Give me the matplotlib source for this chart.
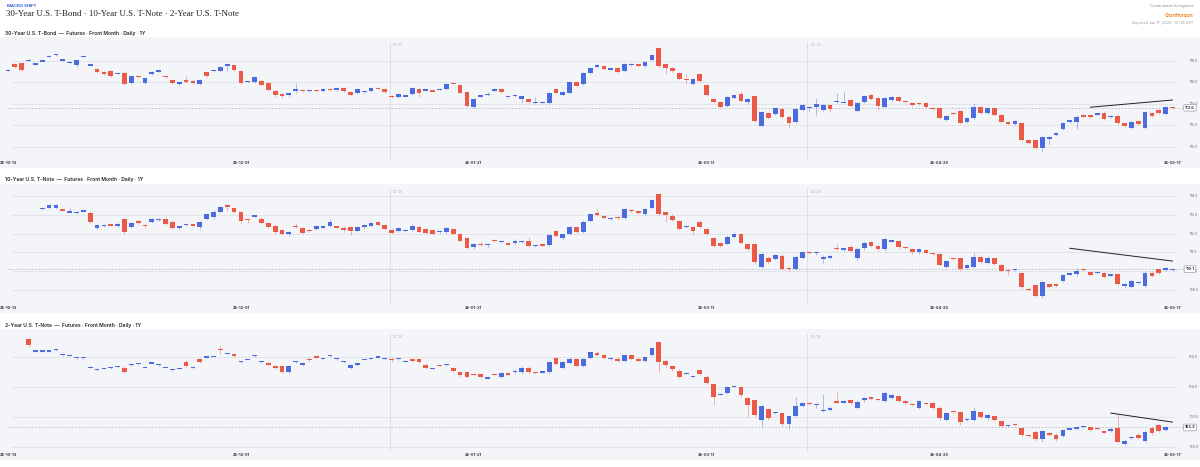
import matplotlib.pyplot as plt
import numpy as np
import pandas as pd

plt.rcParams['font.family'] = ['Inter', 'DejaVu Sans']

# trading calendar: weekdays minus exchange holidays
holidays = ['2025-11-27', '2025-12-25', '2026-01-01', '2026-01-19',
            '2026-02-16', '2026-04-03', '2026-05-25']
dates = pd.bdate_range('2025-10-13', '2026-06-17')
dates = dates[~dates.isin(pd.to_datetime(holidays))]

date_ticks = ['25-10-13', '25-12-01', '26-01-21', '26-03-11', '26-04-29', '26-06-17']
quarter_starts = ['2026-01-02', '2026-04-01']
quarter_labels = ["Q1 '26", "Q2 '26"]

N = None

# ---- 30-Year U.S. T-Bond ----
bond_open = [
    117.08, 117.69, 117.76, 118.01, 117.67, 117.95, 118.38, 118.54, 118.05, 117.80,
    117.57, 118.38, 117.58, 117.20, 116.98, 117.01, 116.81, 116.83, 115.90, 116.52,
    115.95, 116.76, 117.02, 116.52, 116.20, 115.83, 116.20, 116.10, 115.80, 116.92,
    117.05, 117.07, 117.58, 117.60, 117.04, 116.03, 116.05, 116.10, 115.95, 115.20,
    114.90, 114.88, 115.18, 115.30, 115.15, 115.22, 115.20, 115.35, 115.30, 115.45,
    115.12, 115.03, 115.10, 115.21, 115.45, 115.34, 114.67, 114.59, 114.70, 114.90,
    115.34, 115.25, 115.20, 115.32, 115.37, 115.92, 115.74, 115.12, 113.72, 114.70,
    114.85, 115.21, 115.34, 114.63, 114.73, 114.47, 114.41, 114.08, 114.08, 114.03,
    115.40, 114.81, 115.03, 115.99, 115.80, 116.83, 117.41, 117.51, 117.21, 117.29,
    117.04, 117.64, 117.70, 117.51, 118.07, 119.15, 117.66, 117.29, 116.83, 116.29,
    115.83, 116.73, 115.74, 114.41, 114.19, 113.79, 114.50, 114.87, 114.19, 114.72,
    111.96, 113.10, 113.04, 113.51, 112.80, 112.33, 113.41, 113.64, 113.66, 113.40,
    113.88, 114.17, 114.12, 114.30, 113.32, 114.19, 114.81, 114.50, 113.66, 114.35,
    114.66, 114.22, 114.10, 114.06, 114.03, 113.60, 113.57, 112.48, 113.12, 113.32,
    112.33, 112.64, 113.66, 113.10, 113.57, 112.95, 112.33, 112.11, 112.17, 110.62,
    110.62, 109.85, 110.69, 111.09, 111.62, 112.27, 112.33, 112.95, 112.95, 113.02,
    113.10, 112.78, 112.86, 112.17, 111.71, 112.39, 111.71, 113.17, 113.42, 113.04, 113.66]
bond_high = [
    117.20, 117.80, 117.85, 118.12, 117.78, 118.05, 118.50, 118.65, 118.15, 117.98,
    118.15, 118.48, 117.70, 117.30, 117.08, 117.10, 116.92, 116.93, 116.70, 116.60,
    116.45, 117.05, 117.15, 116.60, 116.30, 116.15, 116.58, 116.20, 116.30, 117.02,
    117.16, 117.49, 117.70, 117.70, 117.14, 116.15, 116.56, 116.20, 116.05, 115.30,
    115.00, 115.00, 115.90, 115.40, 115.35, 115.32, 115.45, 115.45, 115.55, 115.55,
    115.22, 115.44, 115.20, 115.59, 115.55, 115.44, 114.77, 114.97, 114.83, 115.53,
    115.44, 115.38, 115.28, 115.45, 115.93, 116.02, 115.84, 115.22, 114.57, 114.83,
    115.12, 115.44, 115.44, 114.76, 114.86, 114.79, 114.51, 114.60, 114.21, 115.07,
    115.50, 115.22, 116.09, 116.09, 116.93, 117.45, 117.70, 117.61, 117.34, 117.39,
    117.76, 117.77, 117.80, 118.01, 118.63, 119.25, 117.76, 117.39, 116.93, 116.80,
    116.37, 116.83, 115.84, 114.51, 114.29, 114.75, 114.91, 115.15, 114.51, 114.82,
    113.30, 113.20, 113.67, 113.61, 112.90, 113.61, 113.98, 113.77, 114.50, 114.00,
    113.98, 115.00, 115.12, 114.40, 114.20, 114.82, 114.91, 114.60, 114.66, 114.76,
    114.76, 114.32, 114.20, 114.16, 114.13, 113.70, 113.67, 112.96, 113.22, 113.42,
    112.80, 114.10, 113.76, 113.67, 113.67, 113.05, 112.43, 112.52, 112.27, 110.72,
    110.72, 110.97, 111.03, 111.34, 112.34, 112.58, 112.90, 113.05, 113.05, 113.15,
    113.30, 112.91, 112.96, 112.27, 112.43, 112.49, 113.36, 113.27, 113.52, 113.83, 113.76]
bond_low = [
    117.00, 117.35, 117.05, 117.95, 117.60, 117.90, 118.30, 118.48, 117.98, 117.70,
    117.45, 118.30, 117.50, 116.82, 116.66, 116.50, 116.72, 115.76, 115.80, 116.40,
    115.85, 116.66, 116.95, 116.38, 115.80, 115.73, 115.95, 115.80, 115.70, 116.48,
    116.97, 116.97, 116.92, 117.06, 115.85, 115.95, 115.95, 115.64, 115.17, 114.60,
    114.55, 114.65, 114.97, 115.05, 115.05, 115.10, 115.10, 115.20, 115.20, 115.10,
    114.71, 114.93, 115.00, 115.11, 115.35, 115.02, 114.55, 114.49, 114.60, 114.80,
    114.60, 115.18, 115.07, 115.25, 115.27, 115.80, 114.86, 113.69, 113.62, 114.60,
    114.75, 115.11, 114.99, 114.55, 114.65, 114.05, 114.09, 114.00, 113.98, 113.93,
    114.93, 114.71, 114.93, 115.55, 115.70, 116.73, 117.31, 117.10, 117.11, 116.88,
    116.94, 117.54, 117.41, 117.41, 117.97, 117.41, 116.80, 116.97, 116.17, 115.85,
    115.73, 116.04, 114.71, 114.09, 113.62, 113.69, 114.40, 114.18, 114.00, 112.32,
    111.80, 112.54, 112.94, 112.63, 111.75, 112.23, 113.31, 113.20, 112.90, 113.30,
    113.20, 114.07, 114.02, 113.72, 113.22, 114.09, 114.31, 113.40, 113.56, 114.25,
    114.18, 114.06, 113.78, 113.90, 113.62, 113.44, 112.60, 112.38, 112.96, 112.07,
    112.23, 112.54, 113.07, 113.00, 112.85, 112.23, 112.01, 112.01, 110.52, 110.28,
    109.75, 109.54, 110.20, 110.99, 111.52, 112.17, 111.65, 112.63, 112.63, 112.92,
    112.48, 112.70, 112.14, 111.86, 111.61, 112.01, 111.61, 112.76, 113.00, 112.94, 113.52]
bond_close = [
    117.12, 117.44, 117.13, 118.05, 117.70, 117.98, 118.41, 118.58, 118.08, 117.88,
    118.07, 118.42, 117.61, 116.92, 116.76, 116.60, 116.84, 115.86, 116.60, 116.48,
    116.36, 116.95, 117.05, 116.48, 115.90, 116.05, 116.05, 115.90, 116.20, 116.58,
    117.08, 117.39, 117.61, 117.16, 115.95, 116.06, 116.46, 115.74, 115.27, 114.78,
    114.70, 114.91, 115.34, 115.15, 115.25, 115.19, 115.35, 115.30, 115.45, 115.20,
    114.81, 115.34, 115.13, 115.49, 115.42, 115.12, 114.64, 114.87, 114.73, 115.43,
    114.96, 115.28, 115.17, 115.35, 115.83, 115.89, 114.96, 113.79, 114.47, 114.73,
    114.88, 115.34, 115.09, 114.66, 114.76, 114.69, 114.19, 114.11, 114.11, 114.97,
    115.03, 115.12, 115.99, 115.65, 116.83, 117.35, 117.60, 117.20, 117.24, 116.98,
    117.66, 117.67, 117.51, 117.91, 118.53, 117.51, 117.29, 117.07, 116.27, 116.26,
    116.27, 116.14, 114.81, 114.19, 113.72, 114.65, 114.81, 114.28, 114.41, 112.42,
    113.20, 112.64, 113.57, 112.73, 112.17, 113.51, 113.88, 113.67, 113.97, 113.90,
    113.48, 114.20, 114.15, 113.82, 114.10, 114.72, 114.41, 113.79, 114.56, 114.66,
    114.28, 114.16, 113.88, 114.00, 113.72, 113.54, 112.70, 112.86, 113.06, 112.17,
    112.70, 113.66, 113.17, 113.57, 112.95, 112.33, 112.11, 112.42, 110.62, 110.38,
    109.85, 110.87, 110.93, 111.24, 112.24, 112.48, 112.80, 112.73, 112.73, 113.05,
    112.58, 112.81, 112.24, 111.96, 112.33, 112.11, 113.26, 112.86, 113.10, 113.73, 113.62]

# ---- 10-Year U.S. T-Note ----
note_open = [
    N, N, N, N, N, 113.32, 113.36, 113.36, 113.27, 113.14,
    113.12, 113.19, 113.11, 112.28, 112.41, 112.47, 112.42, 112.78, 112.37, 112.67,
    112.45, 112.63, 112.75, 112.78, 112.63, 112.28, 112.48, 112.47, 112.33, 112.78,
    112.87, 113.13, 113.50, 113.36, 113.15, 112.77, 112.93, 112.79, 112.55, 112.42,
    112.17, 111.99, 112.38, 112.30, 112.18, 112.25, 112.34, 112.42, 112.36, 112.31,
    112.33, 112.16, 112.33, 112.40, 112.62, 112.47, 112.21, 112.14, 112.15, 112.21,
    112.33, 112.23, 112.17, 112.09, 112.07, 112.24, 111.99, 111.75, 111.27, 111.47,
    111.42, 111.63, 111.56, 111.50, 111.48, 111.56, 111.59, 111.35, 111.40, 111.39,
    112.14, 111.78, 111.96, 112.33, 112.10, 112.69, 113.08, 112.94, 112.80, 112.86,
    112.81, 113.23, 113.22, 113.02, 113.38, 114.11, 113.13, 112.95, 112.67, 112.36,
    112.33, 112.64, 112.23, 111.75, 111.48, 111.45, 111.84, 111.96, 111.43, 111.43,
    110.24, 110.72, 110.65, 110.83, 110.16, 110.12, 110.72, 111.00, 110.97, 110.65,
    110.72, 111.21, 111.17, 111.31, 110.68, 111.22, 111.55, 111.34, 111.16, 111.60,
    111.61, 111.26, 111.16, 111.00, 111.13, 110.96, 110.90, 110.24, 110.68, 110.70,
    110.19, 110.24, 110.77, 110.45, 110.68, 110.31, 110.04, 110.09, 109.89, 109.07,
    109.27, 108.70, 109.30, 109.32, 109.50, 109.84, 109.83, 110.11, 109.94, 109.91,
    109.89, 109.79, 109.85, 109.26, 109.18, 109.38, 109.21, 109.92, 110.10, 110.06, 110.09]
note_high = [
    N, N, N, N, N, 113.42, 113.56, 113.56, 113.33, 113.34,
    113.20, 113.27, 113.18, 112.52, 112.50, 112.53, 112.60, 112.85, 112.62, 112.74,
    112.50, 112.85, 112.84, 112.86, 112.70, 112.47, 112.57, 112.53, 112.68, 113.10,
    113.23, 113.48, 113.56, 113.42, 113.20, 112.83, 113.00, 112.86, 112.60, 112.48,
    112.23, 112.16, 112.55, 112.37, 112.24, 112.45, 112.42, 112.80, 112.42, 112.38,
    112.40, 112.43, 112.52, 112.65, 112.69, 112.53, 112.28, 112.35, 112.23, 112.49,
    112.45, 112.30, 112.23, 112.17, 112.37, 112.30, 112.05, 111.82, 111.51, 111.54,
    111.50, 111.69, 111.64, 111.56, 111.69, 111.64, 111.80, 111.42, 111.46, 111.98,
    112.20, 112.05, 112.40, 112.40, 112.70, 113.08, 113.30, 113.00, 112.88, 112.92,
    113.35, 113.30, 113.28, 113.38, 113.83, 114.17, 113.20, 113.02, 112.73, 112.45,
    112.40, 112.72, 112.30, 111.82, 111.55, 111.90, 112.06, 112.03, 111.50, 111.50,
    110.97, 110.80, 110.93, 110.90, 110.22, 110.84, 111.07, 111.10, 111.05, 110.85,
    110.90, 111.45, 111.26, 111.38, 111.27, 111.58, 111.62, 111.40, 111.76, 111.68,
    111.68, 111.32, 111.22, 111.22, 111.20, 111.02, 110.96, 110.62, 110.74, 110.77,
    110.40, 110.95, 110.84, 110.80, 110.75, 110.38, 110.10, 110.18, 109.96, 109.14,
    109.34, 109.48, 109.37, 109.39, 109.87, 109.93, 110.15, 110.17, 110.01, 109.99,
    109.96, 109.87, 109.92, 109.35, 109.57, 109.46, 109.99, 109.99, 110.17, 110.21, 110.17]
note_low = [
    N, N, N, N, N, 113.26, 113.30, 113.30, 113.18, 113.08,
    113.06, 113.13, 112.56, 112.22, 112.35, 112.39, 112.36, 112.00, 112.30, 112.50,
    112.30, 112.57, 112.69, 112.47, 112.22, 112.22, 112.42, 112.38, 112.25, 112.72,
    112.80, 113.07, 113.20, 113.08, 112.58, 112.55, 112.87, 112.49, 112.30, 111.98,
    111.92, 111.85, 112.30, 111.98, 112.10, 112.18, 112.28, 112.36, 112.28, 112.10,
    111.95, 112.10, 112.27, 112.34, 112.40, 112.18, 111.98, 112.08, 112.08, 112.15,
    112.02, 111.98, 111.92, 112.02, 112.00, 111.92, 111.53, 111.18, 111.20, 111.33,
    111.30, 111.55, 111.50, 111.32, 111.41, 111.50, 111.30, 111.29, 111.30, 111.33,
    111.80, 111.65, 111.90, 112.03, 112.03, 112.62, 112.93, 112.75, 112.74, 112.70,
    112.75, 113.15, 113.04, 112.96, 113.32, 112.96, 112.60, 112.66, 112.18, 112.30,
    111.95, 112.30, 111.90, 111.30, 111.28, 111.38, 111.78, 111.45, 111.10, 110.40,
    110.15, 110.40, 110.58, 110.05, 109.95, 110.05, 110.65, 110.90, 110.85, 110.45,
    110.65, 111.12, 111.10, 111.00, 110.60, 111.15, 111.28, 111.10, 111.10, 111.54,
    111.20, 111.18, 110.93, 110.94, 110.92, 110.88, 110.27, 110.18, 110.60, 110.03,
    110.12, 110.18, 110.40, 110.38, 110.31, 109.96, 109.80, 110.02, 109.07, 108.93,
    108.63, 108.55, 109.10, 109.14, 109.43, 109.78, 109.76, 110.03, 109.73, 109.85,
    109.64, 109.73, 109.25, 109.10, 109.11, 109.32, 109.14, 109.67, 109.85, 109.99, 110.03]
note_close = [
    N, N, N, N, N, 113.35, 113.50, 113.50, 113.24, 113.16,
    113.14, 113.21, 112.63, 112.46, 112.43, 112.45, 112.53, 112.07, 112.55, 112.56,
    112.43, 112.78, 112.77, 112.53, 112.28, 112.40, 112.50, 112.45, 112.62, 113.04,
    113.17, 113.42, 113.40, 113.15, 112.65, 112.75, 112.95, 112.55, 112.37, 112.10,
    111.98, 112.10, 112.36, 112.05, 112.16, 112.39, 112.36, 112.62, 112.34, 112.17,
    112.16, 112.37, 112.46, 112.58, 112.47, 112.24, 112.05, 112.28, 112.17, 112.42,
    112.09, 112.05, 111.98, 112.11, 112.30, 111.99, 111.60, 111.25, 111.45, 111.39,
    111.44, 111.61, 111.58, 111.39, 111.62, 111.58, 111.36, 111.37, 111.38, 111.91,
    111.87, 111.99, 112.33, 112.10, 112.63, 113.02, 112.99, 112.81, 112.82, 112.84,
    113.29, 113.21, 113.10, 113.31, 113.77, 113.02, 112.99, 112.72, 112.25, 112.38,
    112.16, 112.37, 111.96, 111.36, 111.34, 111.84, 111.99, 111.52, 111.18, 110.47,
    110.90, 110.47, 110.86, 110.12, 110.14, 110.77, 111.00, 110.98, 110.99, 110.77,
    110.82, 111.19, 111.19, 111.08, 111.20, 111.52, 111.34, 111.16, 111.70, 111.62,
    111.27, 111.24, 111.00, 111.16, 110.99, 110.94, 110.33, 110.56, 110.66, 110.10,
    110.33, 110.77, 110.47, 110.72, 110.38, 110.03, 110.02, 110.11, 109.14, 109.00,
    108.70, 109.41, 109.18, 109.21, 109.80, 109.86, 110.03, 110.09, 109.80, 109.93,
    109.71, 109.81, 109.32, 109.28, 109.50, 109.40, 109.92, 109.74, 109.92, 110.15, 110.11]

# ---- 2-Year U.S. T-Note ----
two_open = [
    N, N, N, 104.79, 104.59, 104.59, 104.59, 104.61, 104.53, 104.52,
    104.48, 104.48, 104.32, 104.28, 104.30, 104.31, 104.33, 104.32, 104.36, 104.38,
    104.32, 104.39, 104.36, 104.32, 104.28, 104.30, 104.42, 104.31, 104.46, 104.49,
    104.50, 104.63, 104.55, 104.55, 104.41, 104.45, 104.51, 104.41, 104.39, 104.34,
    104.35, 104.25, 104.41, 104.37, 104.47, 104.50, 104.47, 104.51, 104.46, 104.41,
    104.32, 104.37, 104.45, 104.47, 104.49, 104.46, 104.47, 104.46, 104.42, 104.46,
    104.46, 104.37, 104.30, 104.36, 104.36, 104.31, 104.25, 104.25, 104.21, 104.21,
    104.14, 104.21, 104.17, 104.23, 104.24, 104.24, 104.32, 104.24, 104.24, 104.24,
    104.48, 104.32, 104.40, 104.46, 104.35, 104.48, 104.57, 104.53, 104.46, 104.47,
    104.43, 104.53, 104.47, 104.43, 104.53, 104.74, 104.43, 104.35, 104.27, 104.22,
    104.16, 104.28, 104.17, 104.04, 103.87, 103.90, 104.00, 103.99, 103.81, 103.77,
    103.44, 103.62, 103.56, 103.56, 103.38, 103.51, 103.68, 103.73, 103.70, 103.60,
    103.61, 103.75, 103.74, 103.78, 103.64, 103.77, 103.82, 103.79, 103.76, 103.81,
    103.84, 103.76, 103.71, 103.65, 103.73, 103.72, 103.65, 103.45, 103.59, 103.58,
    103.45, 103.45, 103.58, 103.47, 103.51, 103.43, 103.35, 103.37, 103.31, 103.19,
    103.25, 103.12, 103.22, 103.20, 103.18, 103.29, 103.30, 103.33, 103.32, 103.31,
    103.25, 103.26, 103.31, 103.05, 103.15, 103.20, 103.10, 103.31, 103.36, 103.28, N]
two_high = [
    N, N, N, 104.81, 104.61, 104.61, 104.61, 104.63, 104.55, 104.54,
    104.50, 104.50, 104.34, 104.30, 104.32, 104.33, 104.35, 104.34, 104.38, 104.40,
    104.34, 104.41, 104.38, 104.34, 104.30, 104.32, 104.44, 104.33, 104.48, 104.51,
    104.52, 104.70, 104.57, 104.57, 104.43, 104.47, 104.53, 104.43, 104.41, 104.36,
    104.37, 104.37, 104.43, 104.42, 104.49, 104.51, 104.49, 104.53, 104.48, 104.43,
    104.38, 104.42, 104.47, 104.49, 104.51, 104.48, 104.49, 104.48, 104.44, 104.48,
    104.48, 104.39, 104.32, 104.37, 104.38, 104.33, 104.27, 104.27, 104.22, 104.23,
    104.16, 104.22, 104.25, 104.25, 104.29, 104.34, 104.34, 104.25, 104.26, 104.43,
    104.50, 104.43, 104.49, 104.48, 104.48, 104.60, 104.59, 104.55, 104.48, 104.49,
    104.55, 104.55, 104.49, 104.52, 104.66, 104.76, 104.45, 104.37, 104.29, 104.24,
    104.18, 104.30, 104.19, 104.06, 103.89, 104.01, 104.02, 104.01, 103.83, 103.79,
    103.70, 103.64, 103.58, 103.58, 103.53, 103.82, 103.74, 103.75, 103.72, 103.88,
    103.67, 103.92, 103.77, 103.80, 103.77, 103.83, 103.84, 103.80, 103.93, 103.88,
    103.86, 103.78, 103.72, 103.78, 103.75, 103.74, 103.67, 103.58, 103.61, 103.60,
    103.48, 103.66, 103.60, 103.55, 103.53, 103.45, 103.37, 103.39, 103.33, 103.21,
    103.27, 103.28, 103.24, 103.22, 103.30, 103.31, 103.34, 103.36, 103.34, 103.33,
    103.27, 103.32, 103.56, 103.12, 103.18, 103.22, 103.26, 103.33, 103.38, 103.34, N]
two_low = [
    N, N, N, 104.67, 104.58, 104.58, 104.58, 104.60, 104.52, 104.51,
    104.47, 104.47, 104.31, 104.27, 104.29, 104.30, 104.32, 104.23, 104.35, 104.37,
    104.31, 104.38, 104.35, 104.31, 104.27, 104.29, 104.32, 104.30, 104.39, 104.48,
    104.49, 104.55, 104.54, 104.50, 104.40, 104.44, 104.50, 104.40, 104.34, 104.30,
    104.23, 104.23, 104.40, 104.35, 104.42, 104.48, 104.46, 104.50, 104.45, 104.40,
    104.30, 104.35, 104.44, 104.46, 104.48, 104.45, 104.42, 104.45, 104.41, 104.41,
    104.39, 104.29, 104.29, 104.34, 104.35, 104.25, 104.17, 104.15, 104.19, 104.14,
    104.13, 104.19, 104.15, 104.18, 104.22, 104.22, 104.22, 104.22, 104.23, 104.22,
    104.36, 104.30, 104.38, 104.33, 104.33, 104.46, 104.51, 104.46, 104.45, 104.41,
    104.41, 104.45, 104.41, 104.41, 104.51, 104.25, 104.33, 104.27, 104.15, 104.21,
    104.15, 104.19, 104.05, 103.70, 103.86, 103.88, 103.99, 103.82, 103.50, 103.50,
    103.32, 103.45, 103.55, 103.35, 103.30, 103.49, 103.66, 103.70, 103.65, 103.58,
    103.59, 103.72, 103.72, 103.70, 103.62, 103.75, 103.77, 103.76, 103.74, 103.79,
    103.74, 103.70, 103.68, 103.63, 103.70, 103.63, 103.44, 103.43, 103.56, 103.36,
    103.43, 103.43, 103.48, 103.45, 103.43, 103.33, 103.33, 103.34, 103.18, 103.16,
    103.10, 103.08, 103.18, 103.10, 103.16, 103.28, 103.28, 103.31, 103.26, 103.28,
    103.22, 103.24, 103.06, 103.03, 103.13, 103.12, 103.08, 103.20, 103.24, 103.26, N]
two_close = [
    N, N, N, 104.69, 104.60, 104.60, 104.60, 104.62, 104.54, 104.53,
    104.49, 104.49, 104.33, 104.29, 104.31, 104.32, 104.34, 104.25, 104.37, 104.39,
    104.33, 104.40, 104.37, 104.33, 104.29, 104.31, 104.34, 104.32, 104.41, 104.50,
    104.51, 104.62, 104.56, 104.52, 104.42, 104.46, 104.52, 104.42, 104.36, 104.32,
    104.25, 104.35, 104.42, 104.40, 104.44, 104.49, 104.48, 104.52, 104.47, 104.42,
    104.36, 104.40, 104.46, 104.48, 104.50, 104.47, 104.44, 104.47, 104.43, 104.43,
    104.41, 104.31, 104.31, 104.35, 104.37, 104.27, 104.19, 104.17, 104.20, 104.16,
    104.15, 104.20, 104.23, 104.20, 104.27, 104.32, 104.24, 104.23, 104.25, 104.41,
    104.38, 104.41, 104.47, 104.35, 104.46, 104.58, 104.53, 104.48, 104.47, 104.43,
    104.53, 104.47, 104.43, 104.50, 104.64, 104.41, 104.37, 104.29, 104.17, 104.23,
    104.17, 104.21, 104.07, 103.83, 103.88, 103.99, 104.01, 103.86, 103.70, 103.53,
    103.68, 103.47, 103.57, 103.37, 103.51, 103.67, 103.72, 103.72, 103.71, 103.61,
    103.65, 103.74, 103.75, 103.72, 103.75, 103.81, 103.79, 103.78, 103.90, 103.86,
    103.76, 103.72, 103.70, 103.76, 103.72, 103.65, 103.47, 103.56, 103.58, 103.41,
    103.46, 103.60, 103.50, 103.53, 103.45, 103.35, 103.36, 103.36, 103.20, 103.18,
    103.12, 103.26, 103.20, 103.12, 103.28, 103.30, 103.32, 103.34, 103.28, 103.30,
    103.24, 103.30, 103.08, 103.10, 103.16, 103.14, 103.24, 103.22, 103.26, 103.32, N]

# divergence trend lines (start date, end date, start value, end value)
bond_trend = ('2026-06-01', '2026-06-17', 113.67, 114.34)
note_trend = ('2026-05-27', '2026-06-17', 111.22, 110.54)
two_trend = ('2026-06-04', '2026-06-17', 103.56, 103.41)

bond_ticks = [110, 112, 114, 116, 118]
note_ticks = [109, 110, 111, 112, 113, 114]
two_ticks = [103.0, 103.5, 104.0, 104.5]

panels = [
    ('30-Year U.S. T-Bond', bond_open, bond_high, bond_low, bond_close,
     bond_ticks, (108.014, 120.205), bond_trend, 37, 168),
    ('10-Year U.S. T-Note', note_open, note_high, note_low, note_close,
     note_ticks, (107.777, 114.638), note_trend, 184, 313),
    ('2-Year U.S. T-Note', two_open, two_high, two_low, two_close,
     two_ticks, (102.778, 104.962), two_trend, 329, 460),
]

W, H = 1200, 467
UP = '#4a6cdf'
DOWN = '#ea5a47'
BG = '#f4f5f9'

fig = plt.figure(figsize=(W / 100, H / 100), dpi=100)
fig.patch.set_facecolor('white')


def fx(x):
    return x / W


def fy(y):
    return 1 - y / H


def idx_of(d):
    return int(dates.get_loc(pd.Timestamp(d)))


fig.text(fx(7), fy(6), 'MACRO SHIFT', fontsize=3.0, fontweight='bold',
         color='#2d5bd6', va='center')
fig.text(fx(6), fy(14.5), '30-Year U.S. T-Bond · 10-Year U.S. T-Note · 2-Year U.S. T-Note',
         fontsize=6.4, family=['Liberation Serif', 'DejaVu Serif'], color='#222222', va='center')
fig.text(fx(1193), fy(6), 'Cross-asset divergence', fontsize=2.8, color='#888888',
         ha='right', va='center')
fig.text(fx(1193), fy(15.3), 'ChartHorizon', fontsize=3.2, fontweight='bold',
         color='#f0892a', ha='right', va='center')
fig.text(fx(1193), fy(22.7), 'Exported Jan 17, 2026 · 07:38 GST', fontsize=2.7,
         color='#999999', ha='right', va='center')

x = np.arange(len(dates))
xlim = (-8 / 6.85, (W - 8) / 6.85)

for name, o, h, l, c, ticks, ylim, trend, top, bot in panels:
    o = np.array(o, dtype=float)
    h = np.array(h, dtype=float)
    l = np.array(l, dtype=float)
    c = np.array(c, dtype=float)

    ax = fig.add_axes([0, fy(bot), 1, (bot - top) / H])
    ax.set_facecolor(BG)
    for s in ax.spines.values():
        s.set_visible(False)
    ax.set_xticks([])
    ax.set_yticks([])
    ax.set_xlim(*xlim)
    ax.set_ylim(*ylim)

    fig.text(fx(5), fy(top - 4), f'{name}  —  Futures · Front Month · Daily · 1Y',
             fontsize=3.6, fontweight='semibold', color='#222222', va='center')

    px_per_unit = (bot - top) / (ylim[1] - ylim[0])

    # grid + y labels
    ax.hlines(ticks, 0.6, 170.7, colors='#e2e4ea', lw=0.7, zorder=1)
    for t in ticks:
        ax.text(1194 / W, t, f'{t:.1f}', transform=ax.get_yaxis_transform(),
                fontsize=2.6, color='#666666', ha='center', va='center', zorder=2)

    # quarter separators
    for qd, ql in zip(quarter_starts, quarter_labels):
        qi = idx_of(qd) - 0.3
        ax.axvline(qi, ymin=0.08, ymax=0.96, color='#dcdfe6', lw=0.7, zorder=1)
        ax.text(qi + 0.5, 0.94, ql, transform=ax.get_xaxis_transform(),
                fontsize=2.2, color='#aaaaaa', va='center', ha='left')

    # date labels
    for dl in date_ticks:
        di = idx_of('20' + dl)
        ax.text(di, 0.038, dl, transform=ax.get_xaxis_transform(), fontsize=2.8,
                fontweight='bold', color='#333333', ha='center', va='center')

    # candles
    ok = ~np.isnan(o)
    up = c >= o
    col = np.where(up, UP, DOWN)
    hi = np.fmax(h, np.fmax(o, c))
    lo = np.fmin(l, np.fmin(o, c))
    ax.vlines(x[ok], lo[ok], hi[ok], colors=col[ok], lw=0.55, alpha=0.55, zorder=3)
    body = np.maximum(np.abs(c - o), 1.3 / px_per_unit)
    base = np.where(np.abs(c - o) < 1.3 / px_per_unit,
                    (o + c) / 2 - body / 2, np.minimum(o, c))
    ax.bar(x[ok], body[ok], bottom=base[ok], width=0.7, color=col[ok],
           linewidth=0, zorder=4)

    # last price line and box
    last = c[ok][-1]
    ax.hlines(last, 0, 171.5, colors='#b7bbc5', lw=0.6, linestyles=(0, (2, 2)), zorder=2)
    ax.text(1190 / W, last, f'{last:.1f}', transform=ax.get_yaxis_transform(),
            fontsize=2.8, fontweight='bold', color='#222222', ha='center', va='center',
            zorder=6, bbox=dict(boxstyle='round,pad=0.35,rounding_size=0.3',
                                 fc='white', ec='#9aa0aa', lw=0.5))

    # divergence trend line
    t0, t1, v0, v1 = trend
    ax.plot([idx_of(t0), idx_of(t1)], [v0, v1], color='#222222', lw=0.7, zorder=5)

fig.savefig('out.png', dpi=100, facecolor='white')
